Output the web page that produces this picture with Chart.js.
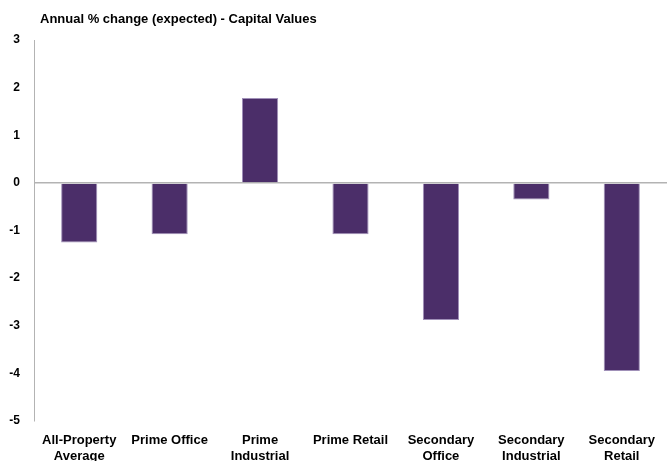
<!DOCTYPE html>
<html>
<head>
<meta charset="utf-8">
<script src="https://cdn.jsdelivr.net/npm/chart.js@4.4.1/dist/chart.umd.min.js"></script>
<style>
  html, body { margin: 0; padding: 0; background: #fff; }
  #wrap { position: relative; width: 667px; height: 461px; }
  #title {
    position: absolute; left: 40px; top: 11px;
    font: bold 13px 'Liberation Sans', Arial, sans-serif; color: #000;
  }
</style>
</head>
<body>
<div id="wrap">
  <div id="title">Annual % change (expected) - Capital Values</div>
  <canvas id="chart" width="667" height="461"></canvas>
</div>
<script>
// --- data ---
const categories = [
    ['All-Property', 'Average'],
    'Prime Office',
    ['Prime', 'Industrial'],
    'Prime Retail',
    ['Secondary', 'Office'],
    ['Secondary', 'Industrial'],
    ['Secondary', 'Retail']
];
const capitalValues = [-1.25, -1.08, 1.78, -1.08, -2.88, -0.35, -3.95];
const yTicks = [3, 2, 1, 0, -1, -2, -3, -4, -5];

Chart.defaults.font.family = "'Liberation Sans', Arial, sans-serif";
Chart.defaults.font.size = 12;
Chart.defaults.font.weight = 'bold';
Chart.defaults.color = '#000';

const ctx = document.getElementById('chart').getContext('2d');
new Chart(ctx, {
    type: 'bar',
    data: {
        labels: categories,
        datasets: [{
            data: capitalValues,
            backgroundColor: '#4b2e69',
            borderColor: '#a090b8',
            borderWidth: 1,
            categoryPercentage: 0.4,
            barPercentage: 1
        }]
    },
    options: {
        responsive: false,
        animation: false,
        layout: { padding: { top: 40, right: 0, left: 0, bottom: 0 } },
        plugins: { legend: { display: false }, tooltip: { enabled: false } },
        scales: {
            x: {
                grid: { display: false },
                border: { display: false },
                ticks: { padding: 4, maxRotation: 0, autoSkip: false, font: { size: 13, weight: 'bold', lineHeight: 1.2 } },
                afterFit: s => { s.height = 40; }
            },
            y: {
                min: -5, max: 3,
                afterBuildTicks: s => { s.ticks = yTicks.map(v => ({ value: v })); },
                grid: {
                    drawTicks: false,
                    color: c => c.tick && c.tick.value === 0 ? '#b3b3b3' : 'rgba(0,0,0,0)',
                    lineWidth: 1.5
                },
                border: { display: true, color: '#b3b3b3', width: 1 },
                ticks: { padding: 14, font: { size: 12, weight: 'bold' } },
                afterFit: s => { s.width = 34; }
            }
        }
    }
});
</script>
</body>
</html>
